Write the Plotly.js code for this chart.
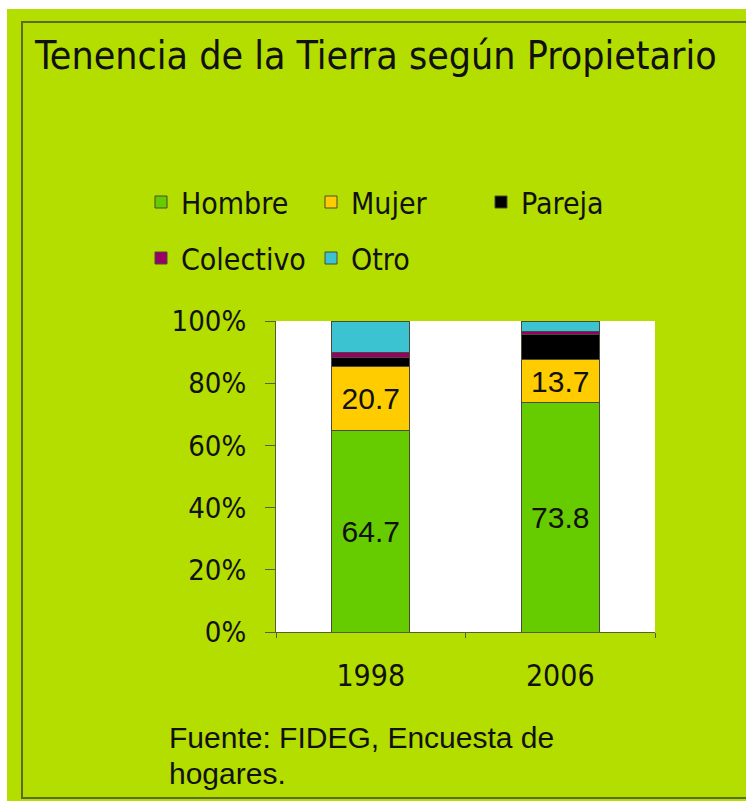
<!DOCTYPE html>
<html>
<head>
<meta charset="utf-8">
<script src="https://cdn.plot.ly/plotly-3.0.1.min.js"></script>
<style>
html,body{margin:0;padding:0;background:#ffffff;}
#chart{position:absolute;left:7px;top:9px;width:739px;height:792px;}
</style>
</head>
<body>
<div id="chart"></div>
<script>
var years = ['1998', '2006'];
var hombre = [64.7, 73.8];
var mujer = [20.7, 13.7];
var pareja = [3.0, 8.3];
var colectivo = [1.6, 0.8];
var otro = [10.0, 3.4];
var seriesNames = ['Hombre', 'Mujer', 'Pareja', 'Colectivo', 'Otro'];
var tickVals = [0, 20, 40, 60, 80, 100];
var tickText = ['0%', '20%', '40%', '60%', '80%', '100%'];

var narrow = '"DejaVu Sans Condensed", sans-serif';
var outline = {color: '#4a4a3a', width: 1};
var labelFont = {family: 'Liberation Sans, Arial, sans-serif', size: 30, color: '#111'};

function fmt(arr) { return arr.map(function (v) { return v.toFixed(1); }); }

var traces = [
  {type: 'bar', name: seriesNames[0], x: years, y: hombre, marker: {color: '#66CC00', line: outline},
   text: fmt(hombre), textposition: 'inside', insidetextanchor: 'middle', textangle: 0,
   textfont: labelFont, legend: 'legend'},
  {type: 'bar', name: seriesNames[1], x: years, y: mujer, marker: {color: '#FFCC00', line: outline},
   text: fmt(mujer), textposition: 'inside', insidetextanchor: 'middle', textangle: 0,
   textfont: labelFont, legend: 'legend'},
  {type: 'bar', name: seriesNames[2], x: years, y: pareja, marker: {color: '#000000', line: outline},
   textposition: 'none', legend: 'legend3'},
  {type: 'bar', name: seriesNames[3], x: years, y: colectivo, marker: {color: '#990066', line: outline},
   textposition: 'none', legend: 'legend2'},
  {type: 'bar', name: seriesNames[4], x: years, y: otro, marker: {color: '#3CC3D2', line: outline},
   textposition: 'none', legend: 'legend2'}
];

var W = 739, H = 792, ml = 269, mr = 91, mt = 312, mb = 169;
var pw = W - ml - mr, ph = H - mt - mb;
function px2x(p) { return (p - ml) / pw; }
function py2y(p) { return (H - mb - p) / ph; }

var legendCommon = {
  orientation: 'h', xref: 'container', yref: 'container', xanchor: 'left', yanchor: 'middle',
  bgcolor: 'rgba(0,0,0,0)', borderwidth: 0, itemwidth: 30,
  entrywidth: 125, entrywidthmode: 'pixels', traceorder: 'normal',
  font: {family: narrow, size: 30, color: '#111'}, itemclick: false, itemdoubleclick: false
};
var leg1 = Object.assign({}, legendCommon, {x: 134 / W, y: 1 - 193 / H});
var leg3 = Object.assign({}, legendCommon, {x: 474 / W, y: 1 - 193 / H});
var leg2 = Object.assign({}, legendCommon, {x: 134 / W, y: 1 - 249 / H});

var layout = {
  width: W, height: H,
  paper_bgcolor: '#B4DD00', plot_bgcolor: '#ffffff',
  margin: {l: ml, r: mr, t: mt, b: mb, pad: 0},
  barmode: 'stack', bargap: 0.59,
  showlegend: true,
  legend: leg1, legend2: leg2, legend3: leg3,
  title: {text: 'Tenencia de la Tierra según Propietario', xref: 'container', yref: 'container',
    x: 28 / W, xanchor: 'left', y: 1 - 46 / H, yanchor: 'middle',
    font: {family: '"DejaVu Sans Condensed", sans-serif', size: 39, color: '#111'}},
  xaxis: {type: 'category', showgrid: false, showline: true, linecolor: '#55603a', linewidth: 1,
    ticks: 'outside', tickson: 'boundaries', ticklen: 5, tickcolor: '#55603a',
    tickfont: {family: narrow, size: 30, color: '#111'}, ticklabelstandoff: 17, fixedrange: true},
  yaxis: {range: [0, 100], tickvals: tickVals, ticktext: tickText, showgrid: false, zeroline: false,
    showline: true, linecolor: '#55603a', linewidth: 1, ticks: 'outside', ticklen: 10, tickcolor: '#55603a',
    tickfont: {family: narrow, size: 29, color: '#111'}, ticklabelstandoff: 13, fixedrange: true},
  shapes: [
    {type: 'rect', xref: 'paper', yref: 'paper', x0: px2x(15), x1: px2x(760), y0: py2y(789), y1: py2y(13),
     line: {color: '#5d6b12', width: 2}, fillcolor: 'rgba(0,0,0,0)', layer: 'below'}
  ],
  annotations: [
    {xref: 'paper', yref: 'paper', x: px2x(160), y: py2y(728), xanchor: 'left', yanchor: 'middle',
     text: 'Fuente: FIDEG, Encuesta de', showarrow: false,
     font: {family: 'Liberation Sans, Arial, sans-serif', size: 30, color: '#111'}},
    {xref: 'paper', yref: 'paper', x: px2x(160), y: py2y(764), xanchor: 'left', yanchor: 'middle',
     text: 'hogares.', showarrow: false,
     font: {family: 'Liberation Sans, Arial, sans-serif', size: 30, color: '#111'}}
  ]
};

Plotly.newPlot('chart', traces, layout, {displayModeBar: false, staticPlot: true});
</script>
</body>
</html>
